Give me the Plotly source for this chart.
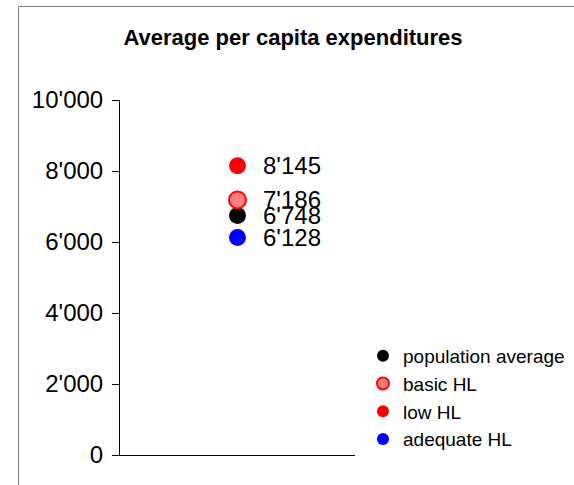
import plotly.graph_objects as go

categories = ["population average", "basic HL", "low HL", "adequate HL"]
values = [6748, 7186, 8145, 6128]
fill_colors = ["#000000", "#FF8080", "#FF0000", "#0000FF"]
line_colors = ["#000000", "#FF0000", "#FF0000", "#0000FF"]
line_widths = [0, 2, 0, 0]
tick_vals = [0, 2000, 4000, 6000, 8000, 10000]
tick_text = ["0", "2'000", "4'000", "6'000", "8'000", "10'000"]
x_cat = "all"

def fmt(v):
    return f"{v:,}".replace(",", "'")

FONT = "Liberation Sans, Arial"

fig = go.Figure()
for name, v, fc, lc, lw in zip(categories, values, fill_colors, line_colors, line_widths):
    fig.add_trace(go.Scatter(
        x=[x_cat], y=[v], mode="markers", name=name,
        marker=dict(size=17, color=fc, line=dict(color=lc, width=lw)),
    ))
    fig.add_annotation(x=x_cat, y=v, text=fmt(v), showarrow=False,
                       xanchor="left", yanchor="middle", xshift=23,
                       font=dict(family=FONT, size=24, color="#000000"))

W, H = 574, 485
L, R, T, B = 120, 355, 100, 455
pw, ph = R - L, B - T
def px(xp):
    return (xp - L) / pw
def py(yp):
    return (B - yp) / ph

fig.add_shape(type="line", xref="paper", yref="paper", x0=px(18.5), x1=px(600), y0=py(6.5), y1=py(6.5),
              line=dict(color="#808080", width=1))
fig.add_shape(type="line", xref="paper", yref="paper", x0=px(18.5), x1=px(18.5), y0=py(6.5), y1=py(520),
              line=dict(color="#808080", width=1))

fig.update_layout(
    width=W, height=H,
    margin=dict(l=L, r=W - R, t=T, b=H - B, pad=0, autoexpand=False),
    paper_bgcolor="white", plot_bgcolor="white",
    font=dict(family=FONT, color="#000000"),
    title=dict(text="<b>Average per capita expenditures</b>", x=293 / W, xanchor="center",
               y=1 - 37 / H, yanchor="middle", font=dict(size=22)),
    xaxis=dict(type="category", showticklabels=False, ticks="", showgrid=False, zeroline=False,
               showline=True, linecolor="#000000", linewidth=1, fixedrange=True),
    yaxis=dict(range=[0, 10000], tickvals=tick_vals, ticktext=tick_text, ticks="outside",
               ticklen=7, tickcolor="#000000", showgrid=False, zeroline=False,
               showline=True, linecolor="#000000", linewidth=1,
               tickfont=dict(size=24), ticklabelstandoff=4),
    legend=dict(x=px(363), xanchor="left", y=py(337), yanchor="top",
                font=dict(size=19), itemsizing="constant", bgcolor="rgba(0,0,0,0)"),
    showlegend=True,
)

fig.write_html("out.html")
